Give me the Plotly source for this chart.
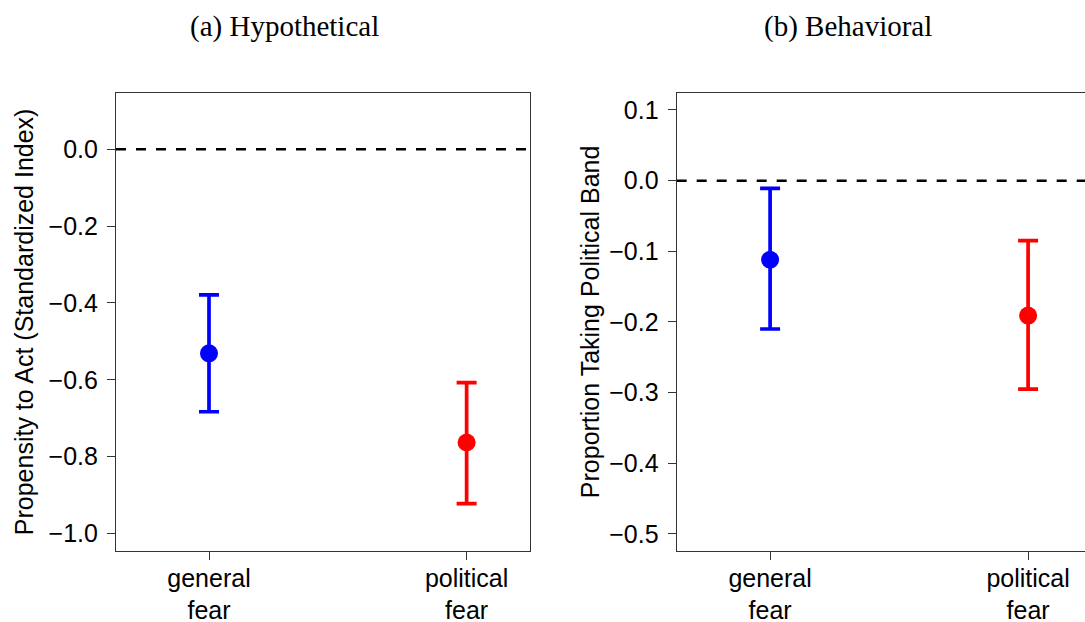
import plotly.graph_objects as go

# ---- data ----
categories = ["general fear", "political fear"]
cat_pos = [1, 2]
tick_labels = ["general<br>fear", "political<br>fear"]
colors = ["#0000FF", "#FF0000"]

hyp_est = [-0.531, -0.763]
hyp_upper = [-0.379, -0.607]
hyp_lower = [-0.683, -0.922]

beh_est = [-0.112, -0.191]
beh_upper = [-0.011, -0.085]
beh_lower = [-0.210, -0.295]

W, H = 1085, 622
FONT = "Liberation Sans, Arial, sans-serif"

fig = go.Figure()

def add_points(est, up, lo, xa, ya):
    for i in range(len(est)):
        fig.add_trace(go.Scatter(
            x=[cat_pos[i]], y=[est[i]], mode="markers",
            marker=dict(color=colors[i], size=18, line=dict(width=0)),
            error_y=dict(type="data", symmetric=False,
                         array=[up[i] - est[i]], arrayminus=[est[i] - lo[i]],
                         color=colors[i], thickness=3.7, width=10),
            xaxis=xa, yaxis=ya, showlegend=False, hoverinfo="skip"))

add_points(hyp_est, hyp_upper, hyp_lower, "x", "y")
add_points(beh_est, beh_upper, beh_lower, "x2", "y2")

ytop = 1 - 93.3 / H
ybot = 1 - 550.5 / H

common_tick = dict(ticks="outside", ticklen=8, tickwidth=1, tickcolor="#333",
                   tickfont=dict(family=FONT, size=25, color="black"),
                   showgrid=False, zeroline=False, automargin=False,
                   linecolor="#333", linewidth=1.2, showline=True)

fig.update_layout(
    width=W, height=H, margin=dict(l=0, r=0, t=0, b=0),
    paper_bgcolor="white", plot_bgcolor="white",
    xaxis=dict(domain=[116 / W, 530 / W], range=[0.639, 2.246],
               tickvals=cat_pos, ticktext=tick_labels, mirror=True,
               anchor="y", ticklabelstandoff=-3, **common_tick),
    yaxis=dict(domain=[ybot, ytop], range=[-1.044, 0.1455],
               tickvals=[0, -0.2, -0.4, -0.6, -0.8, -1.0], tickformat=".1f",
               mirror=True, anchor="x", ticklabelstandoff=4,
               title=dict(text="Propensity to Act (Standardized Index)",
                          font=dict(family=FONT, size=25, color="black"),
                          standoff=7),
               **common_tick),
    xaxis2=dict(domain=[676.7 / W, 1.0], range=[0.638, 0.638 + (W - 676.7) / 258.0],
                tickvals=cat_pos, ticktext=tick_labels, mirror=True,
                anchor="y2", ticklabelstandoff=-3, **common_tick),
    yaxis2=dict(domain=[ybot, ytop], range=[-0.5235, 0.1236],
                tickvals=[0.1, 0, -0.1, -0.2, -0.3, -0.4, -0.5], tickformat=".1f",
                anchor="x2", ticklabelstandoff=4,
                title=dict(text="Proportion Taking Political Band",
                           font=dict(family=FONT, size=25, color="black"),
                           standoff=2),
                **common_tick),
)

# dashed zero reference lines
for xr, yr in [("x domain", "y"), ("x2 domain", "y2")]:
    fig.add_shape(type="line", xref=xr, yref=yr, x0=0, x1=1, y0=0, y1=0,
                  line=dict(color="black", width=2.5, dash="10px,10px"), layer="below")

# panel titles
fig.add_annotation(text="(a) Hypothetical", x=285 / W, y=1 - 26 / H, xref="paper", yref="paper",
                   showarrow=False, xanchor="center", yanchor="middle",
                   font=dict(family="Liberation Serif, Times New Roman, serif", size=29, color="black"))
fig.add_annotation(text="(b) Behavioral", x=848 / W, y=1 - 26 / H, xref="paper", yref="paper",
                   showarrow=False, xanchor="center", yanchor="middle",
                   font=dict(family="Liberation Serif, Times New Roman, serif", size=29, color="black"))

fig.write_html("out.html")
